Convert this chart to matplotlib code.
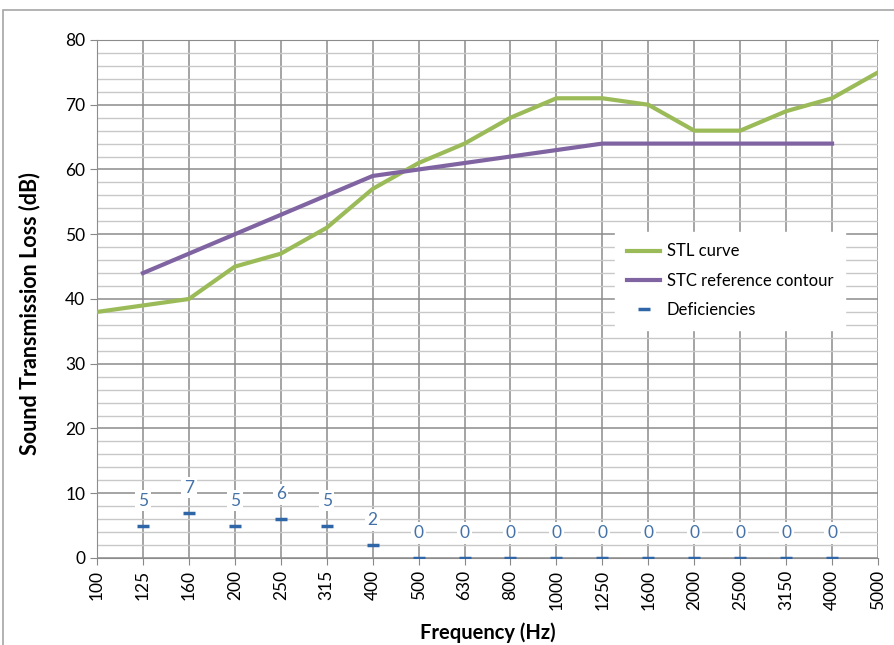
import matplotlib.pyplot as plt
from matplotlib.patches import Rectangle
import numpy as np

plt.rcParams['font.family'] = ['Lato', 'DejaVu Sans']

freqs = ['100', '125', '160', '200', '250', '315', '400', '500', '630', '800',
         '1000', '1250', '1600', '2000', '2500', '3150', '4000', '5000']
stl = [38, 39, 40, 45, 47, 51, 57, 61, 64, 68, 71, 71, 70, 66, 66, 69, 71, 75]
stc_freqs = freqs[1:17]
stc = [44, 47, 50, 53, 56, 59, 60, 61, 62, 63, 64, 64, 64, 64, 64, 64]
deficiencies = [5, 7, 5, 6, 5, 2, 0, 0, 0, 0, 0, 0, 0, 0, 0, 0]

green = '#9BBB59'
purple = '#8064A2'
blue = '#2F66A8'
label_blue = '#4472A8'

fig = plt.figure(figsize=(8.95, 6.45), dpi=100)
ax = fig.add_axes([0.1084, 0.1349, 0.8726, 0.8031])

x_all = np.arange(len(freqs))
x_stc = np.arange(1, 1 + len(stc_freqs))

ax.plot(x_all, stl, color=green, lw=3, label='STL curve', zorder=3)
ax.plot(x_stc, stc, color=purple, lw=3, label='STC reference contour', zorder=3)
ax.plot(x_stc, deficiencies, ls='none', marker='_', ms=9, mew=2.5, color=blue,
        label='Deficiencies', zorder=4)
for xi, d in zip(x_stc, deficiencies):
    ax.annotate(str(d), (xi, d), xytext=(0, 18), textcoords='offset points',
                ha='center', va='center', fontsize=12.5, color=label_blue, zorder=5,
                bbox=dict(boxstyle='square,pad=0.15', fc='white', ec='none'))

ax.set_xlim(0, len(freqs) - 1)
ax.set_ylim(0, 80)
ax.set_xticks(x_all)
ax.set_xticklabels(freqs, rotation=90, fontsize=12.5)
ax.set_yticks(range(0, 81, 10))
ax.set_yticks(range(0, 81, 2), minor=True)
ax.tick_params(axis='y', labelsize=12.5, length=5, color='#888888')
ax.tick_params(axis='y', which='minor', length=0)
ax.tick_params(axis='x', length=5, color='#888888')
ax.grid(True, which='major', color='#8C8C8C', lw=1.1)
ax.grid(True, which='minor', axis='y', color='#C8C8C8', lw=1.0)
ax.set_axisbelow(True)
for s in ax.spines.values():
    s.set_color('#8C8C8C')
ax.spines['right'].set_visible(False)

ax.set_ylabel('Sound Transmission Loss (dB)', fontsize=15.5, fontweight='bold')
ax.yaxis.set_label_coords(-0.072, 0.471)
ax.set_xlabel('Frequency (Hz)', fontsize=14.5, fontweight='bold', labelpad=9)

leg = ax.legend(loc='upper left', bbox_to_anchor=(0.653, 0.646), fontsize=12,
                frameon=True, fancybox=False, framealpha=1, edgecolor='white',
                handlelength=2.0, handletextpad=0.4, labelspacing=0.8, borderpad=0.7)

fig.patches.append(Rectangle((3 / 895, -0.01), 1.0, 1 - 10 / 645 + 0.01,
                             transform=fig.transFigure, fill=False,
                             ec='#A6A6A6', lw=1.2))

fig.savefig('out.png', dpi=100)
